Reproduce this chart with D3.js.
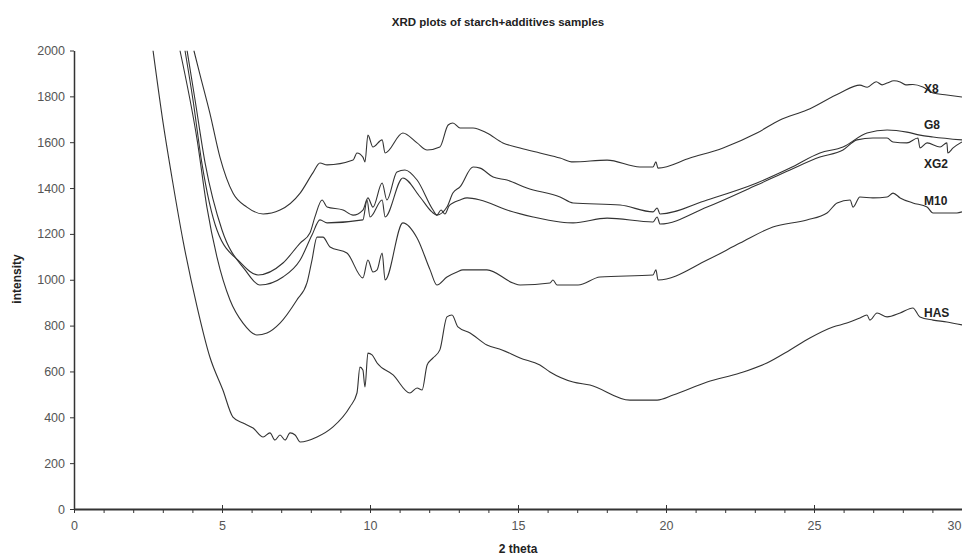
<!DOCTYPE html>
<html><head><meta charset="utf-8">
<script src="https://cdn.jsdelivr.net/npm/d3@7"></script>
<style>
html,body{margin:0;padding:0;background:#fff;}
svg{display:block;font-family:"Liberation Sans",Arial,sans-serif;}
</style></head>
<body><svg id="c" width="962" height="559"></svg>
<script>
const title = "XRD plots of starch+additives samples";
const xLabel = "2 theta";
const yLabel = "intensity";
const xTickValues = [0,5,10,15,20,25,30];
const xMinorTicks = d3.range(0,31,1);
const yTickValues = [0,200,400,600,800,1000,1200,1400,1600,1800,2000];
const seriesNames = ["X8","G8","XG2","M10","HAS"];
const labelValues = [1830,1670,1500,1340,850];

const X8 = [[4.05,2000],[4.26,1893],[4.59,1727],[4.93,1535],[5.37,1378],[5.84,1317],[6.39,1287],[6.96,1304],[7.64,1378],[8.07,1466],[8.31,1509],[8.55,1501],[9.43,1522],[9.56,1553],[9.76,1535],[9.83,1514],[9.93,1631],[10.10,1579],[10.41,1610],[10.51,1553],[11.11,1640],[11.59,1597],[11.93,1566],[12.36,1579],[12.64,1675],[12.80,1684],[13.04,1662],[13.48,1662],[13.95,1640],[14.49,1597],[15.07,1575],[15.74,1553],[16.42,1531],[16.86,1514],[18.01,1522],[19.12,1492],[19.56,1492],[19.66,1514],[19.73,1487],[20.81,1531],[21.93,1575],[23.07,1640],[23.85,1697],[24.76,1740],[25.88,1815],[26.55,1849],[26.8,1840],[27.1,1864],[27.3,1850],[27.47,1858],[27.7,1868],[27.91,1863],[28.1,1850],[28.34,1852],[28.68,1841],[29.02,1815],[29.49,1806],[30,1797]];

const G8 = [[3.75,2000],[4.02,1784],[4.32,1509],[4.83,1217],[5.61,1077],[6.22,1021],[7.06,1073],[7.64,1160],[7.97,1204],[8.14,1274],[8.38,1348],[8.55,1317],[9.09,1304],[9.43,1282],[9.76,1304],[9.93,1357],[10.10,1317],[10.41,1422],[10.57,1348],[10.91,1470],[11.18,1479],[11.59,1435],[12.13,1304],[12.26,1282],[12.60,1317],[12.80,1378],[13.04,1405],[13.48,1492],[13.72,1487],[14.16,1448],[14.63,1435],[15.30,1400],[16.42,1361],[16.86,1335],[18.45,1326],[19.56,1296],[19.70,1313],[19.80,1287],[21.39,1348],[23.07,1422],[24.19,1487],[25.20,1553],[25.98,1579],[26.79,1640],[27.47,1653],[28.14,1644],[28.58,1631],[29.02,1623],[30,1610]];

const XG2 = [[3.82,2000],[4.09,1784],[4.43,1509],[5.00,1217],[5.78,1043],[6.28,977],[7.06,1012],[7.64,1086],[8.04,1195],[8.31,1261],[8.55,1248],[9.76,1261],[9.90,1348],[10.00,1274],[10.41,1348],[10.51,1274],[11.11,1444],[11.69,1361],[12.09,1296],[12.26,1282],[12.40,1304],[12.53,1287],[12.67,1322],[12.80,1335],[13.04,1348],[13.28,1357],[13.72,1348],[14.63,1304],[15.51,1274],[16.42,1252],[16.86,1248],[18.01,1269],[19.56,1252],[19.70,1274],[19.80,1243],[21.39,1317],[23.07,1413],[24.19,1479],[25.20,1535],[25.98,1566],[26.45,1610],[26.99,1618],[27.47,1618],[27.67,1601],[28.14,1597],[28.51,1618],[28.58,1575],[28.82,1597],[29.26,1579],[29.49,1597],[29.52,1553],[29.70,1575],[30,1601]];

const M10 = [[3.58,2000],[4.16,1610],[4.49,1317],[4.83,1099],[5.27,912],[5.71,811],[6.18,759],[6.52,768],[6.96,811],[7.53,912],[7.87,986],[8.04,1086],[8.21,1186],[8.41,1186],[8.65,1143],[9.22,1117],[9.76,1008],[9.93,1086],[10.10,1034],[10.24,1043],[10.41,1117],[10.51,999],[11.11,1248],[11.59,1182],[12.03,1043],[12.26,977],[12.60,1012],[12.94,1034],[13.14,1043],[13.95,1043],[14.83,986],[15.07,977],[16.08,986],[16.18,999],[16.32,977],[17.03,977],[17.77,1012],[19.56,1021],[19.66,1043],[19.73,999],[21.39,1086],[22.50,1160],[23.61,1230],[24.76,1261],[25.44,1291],[25.78,1335],[26.22,1348],[26.32,1317],[26.55,1361],[26.99,1357],[27.47,1361],[27.67,1378],[27.91,1357],[28.34,1335],[28.82,1317],[29.02,1291],[29.83,1291],[30,1296]];

const HAS = [[2.67,2000],[3.01,1684],[3.34,1422],[3.68,1173],[4.16,881],[4.59,663],[5.03,519],[5.37,401],[5.71,375],[6.05,353],[6.39,314],[6.62,332],[6.79,301],[6.96,323],[7.13,301],[7.30,332],[7.47,323],[7.64,292],[8.21,314],[8.75,358],[9.32,445],[9.56,506],[9.66,619],[9.76,606],[9.83,532],[9.93,680],[10.07,672],[10.24,637],[10.78,585],[11.35,506],[11.59,528],[11.76,519],[11.93,628],[12.13,659],[12.36,694],[12.60,838],[12.77,846],[12.97,794],[13.38,768],[13.95,715],[14.46,694],[15.07,659],[15.74,628],[16.08,598],[16.86,554],[17.43,541],[18.78,475],[19.70,475],[20.24,497],[21.39,554],[22.50,593],[23.41,637],[24.19,694],[24.86,746],[25.64,794],[26.11,811],[26.55,833],[26.79,846],[26.89,824],[27.13,855],[27.47,838],[27.91,855],[28.34,877],[28.58,838],[29.02,824],[29.49,816],[30,803]];

const seriesData = [X8, G8, XG2, M10, HAS];

const svg = d3.select("#c");
const x = d3.scaleLinear().domain([0,30]).range([74,962]);
const y = d3.scaleLinear().domain([0,2000]).range([509,50.5]);
const ink = "#333";

svg.append("defs").append("clipPath").attr("id","plot")
  .append("rect").attr("x",74).attr("y",50.5).attr("width",888).attr("height",458.5);

svg.append("text").attr("x",498).attr("y",26).attr("text-anchor","middle")
  .attr("font-size",11.5).attr("font-weight","bold").attr("fill","#222").text(title);

// Y axis
const yAxis = svg.append("g").attr("transform","translate(74,0)")
  .call(d3.axisLeft(y).tickValues(yTickValues).tickSize(4).tickSizeOuter(0).tickFormat(d3.format("d")));
yAxis.select(".domain").attr("stroke",ink).attr("stroke-width",1.5);
yAxis.selectAll(".tick line").attr("stroke",ink);
yAxis.selectAll(".tick text").attr("font-size",12.5).attr("fill","#555").attr("x",-9)
  .attr("font-family","'Liberation Sans',Arial,sans-serif");

// X axis minor ticks
const xMinor = svg.append("g").attr("transform","translate(0,509)")
  .call(d3.axisBottom(x).tickValues(xMinorTicks).tickSize(4).tickFormat(""));
xMinor.select(".domain").remove();
xMinor.selectAll(".tick line").attr("stroke",ink);

// X axis major
const xAxis = svg.append("g").attr("transform","translate(0,509)")
  .call(d3.axisBottom(x).tickValues(xTickValues).tickSize(4).tickSizeOuter(0).tickPadding(8));
xAxis.select(".domain").attr("stroke",ink).attr("stroke-width",2);
xAxis.selectAll(".tick line").attr("stroke",ink).attr("y1",-4);
xAxis.selectAll(".tick text").attr("font-size",12.5).attr("fill","#555")
  .attr("font-family","'Liberation Sans',Arial,sans-serif");
xAxis.selectAll(".tick text").filter(d=>d===30).attr("text-anchor","end").attr("x",-1);

svg.append("text").attr("x",518).attr("y",553).attr("text-anchor","middle")
  .attr("font-size",12).attr("font-weight","bold").attr("fill","#222").text(xLabel);
svg.append("text").attr("transform","translate(21,279) rotate(-90)").attr("text-anchor","middle")
  .attr("font-size",12).attr("font-weight","bold").attr("fill","#222").text(yLabel);

const line = d3.line().x(d=>x(d[0])).y(d=>y(d[1])).curve(d3.curveMonotoneX);
svg.append("g").attr("clip-path","url(#plot)").selectAll("path").data(seriesData).join("path")
  .attr("d",line).attr("fill","none").attr("stroke",ink).attr("stroke-width",1.1)
  .attr("stroke-linejoin","round");

svg.append("g").selectAll("text").data(seriesNames).join("text")
  .attr("x",924).attr("y",(d,i)=>y(labelValues[i])).attr("dominant-baseline","middle")
  .attr("font-size",12).attr("font-weight","bold").attr("fill","#222").text(d=>d);
</script></body></html>
